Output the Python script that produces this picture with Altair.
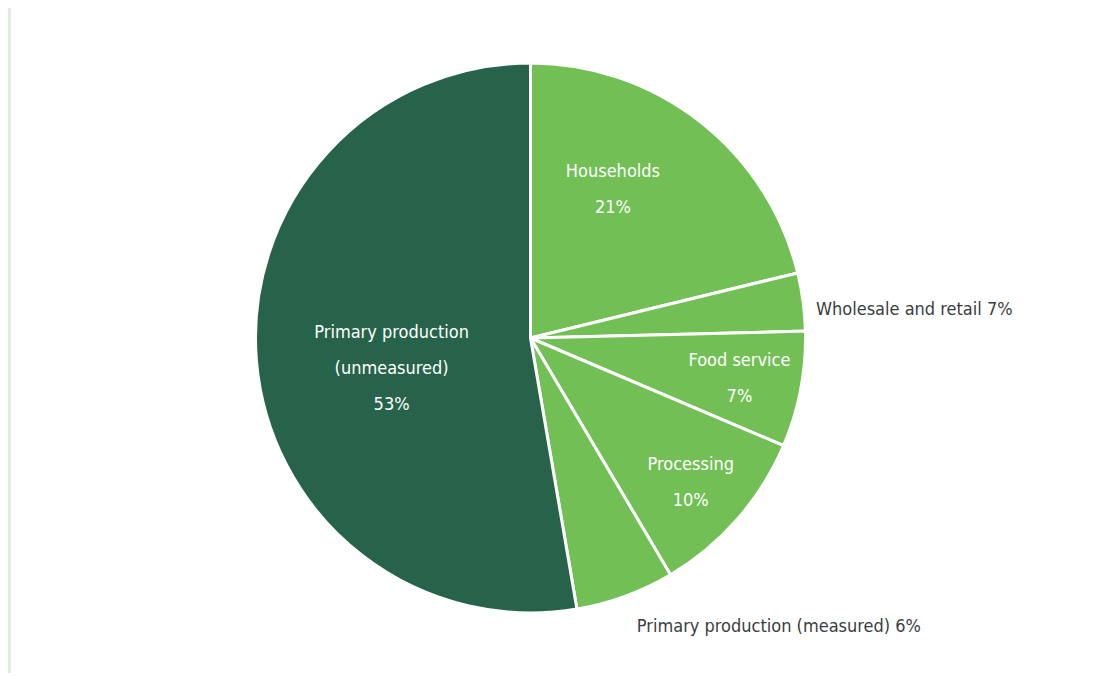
import altair as alt
import pandas as pd

# ---- data ----
categories = [
    "Households",
    "Wholesale and retail",
    "Food service",
    "Processing",
    "Primary production (measured)",
    "Primary production (unmeasured)",
]
slice_share = [21.2, 3.4, 6.8, 10.1, 5.8, 52.7]   # visual size of each slice
label_pct = ["21%", "7%", "7%", "10%", "6%", "53%"]  # printed percentages

# ---- layout / style (kept apart from data) ----
W, H = 1104, 665
CX, CY = 522.5, 330
R = 275
slice_colors = ["#72bf55", "#72bf55", "#72bf55", "#72bf55", "#72bf55", "#27634b"]
# polar anchor of each label's first line
label_angle_deg = [26.4, 84.4, 96.3, 128.4, 159.8, 272.2]
label_radius = [185.4, 286.9, 210.2, 204.5, 308, 139.0]
label_inside = [True, False, True, True, False, True]
label_lines = [
    ["Households", "21%"],
    ["Wholesale and retail 7%"],
    ["Food service", "7%"],
    ["Processing", "10%"],
    ["Primary production (measured) 6%"],
    ["Primary production", "(unmeasured)", "53%"],
]

pie_df = pd.DataFrame({
    "category": categories,
    "share": slice_share,
    "order": list(range(len(categories))),
})

lab_df = pd.DataFrame({
    "category": categories,
    "pct": label_pct,
    "lines": label_lines,
    "deg": label_angle_deg,
    "rad": label_radius,
    "inside": label_inside,
})
in_df = lab_df[lab_df["inside"]].copy()
out_df = lab_df[~lab_df["inside"]].copy()

FONT = "'DejaVu Sans Condensed', 'Liberation Sans Narrow', 'Open Sans', sans-serif"
FS = 18

bg = alt.Chart(pd.DataFrame({"a": [0]})).mark_rect(color="white").encode(
    x=alt.value(3), x2=alt.value(W), y=alt.value(0), y2=alt.value(H)
)

pie = alt.Chart(pie_df).mark_arc(radius=R, stroke="white", strokeWidth=3).encode(
    theta=alt.Theta("share:Q", stack=True),
    order=alt.Order("order:Q"),
    color=alt.Color("category:N", sort=categories,
                    scale=alt.Scale(domain=categories, range=slice_colors),
                    legend=None),
    x=alt.value(CX),
    y=alt.value(CY),
)

theta_scale = alt.Scale(domain=[0, 360], range=[0, 6.283185307179586])

inside_text = alt.Chart(in_df).mark_text(
    font=FONT, fontSize=FS, color="white", align="center", baseline="middle",
    lineHeight=36,
).encode(
    theta=alt.Theta("deg:Q", stack=None, scale=theta_scale),
    radius=alt.Radius("rad:Q", scale=None),
    text="lines",
    x=alt.value(CX),
    y=alt.value(CY),
)

outside_text = alt.Chart(out_df).mark_text(
    font=FONT, fontSize=FS, color="#3a3d40", align="left", baseline="middle",
).encode(
    theta=alt.Theta("deg:Q", stack=None, scale=theta_scale),
    radius=alt.Radius("rad:Q", scale=None),
    text="lines",
    x=alt.value(CX),
    y=alt.value(CY),
)

chart = alt.layer(bg, pie, inside_text, outside_text).resolve_scale(
    theta="independent", radius="independent"
).properties(
    width=W, height=H, background="#dfeedb", padding=0,
    autosize=alt.AutoSizeParams(type="none"),
).configure_view(stroke=None)

chart.save("out.html", embed_options={"renderer": "svg", "actions": False})
